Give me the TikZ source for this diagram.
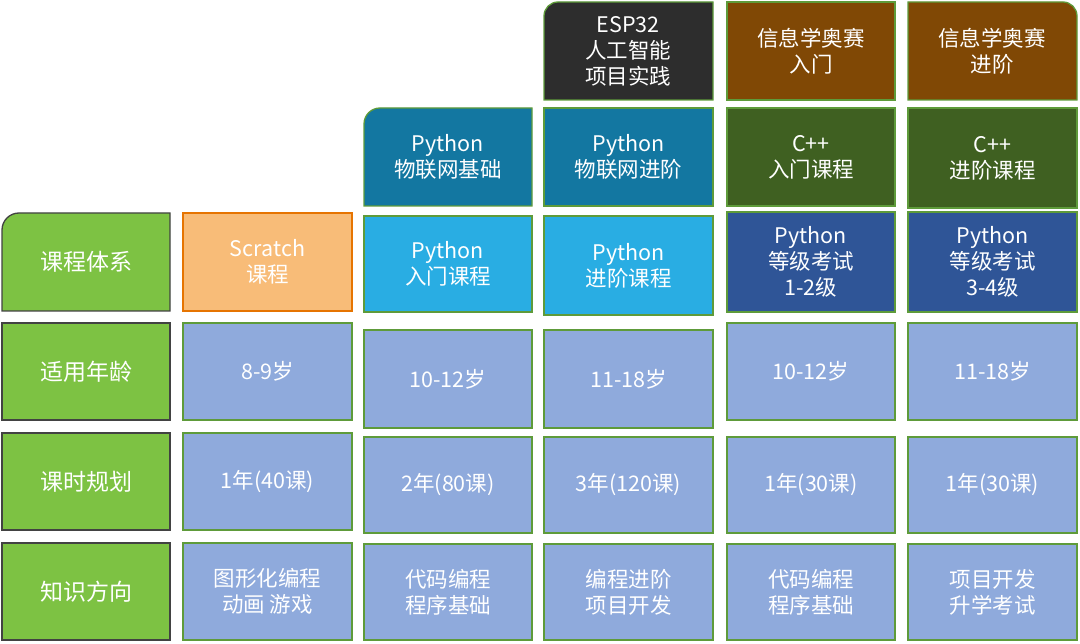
\documentclass[tikz,border=0pt]{standalone}
\usepackage{fontspec}
\setmainfont{Noto Sans CJK SC}
\definecolor{hgreen}{HTML}{7DC243}
\definecolor{orng}{HTML}{F8BC78}
\definecolor{cyanb}{HTML}{29ADE3}
\definecolor{teal}{HTML}{1377A1}
\definecolor{darkb}{HTML}{2D2D2D}
\definecolor{brown}{HTML}{804805}
\definecolor{dgreen}{HTML}{3F6021}
\definecolor{navy}{HTML}{2F5597}
\definecolor{lblue}{HTML}{8FAADC}
\definecolor{edgeg}{HTML}{5E9B3A}
\begin{document}
\begin{tikzpicture}[x=1pt,y=-1pt,
  cell/.style={draw=edgeg,line width=1.3pt},
  lab/.style={text=white,font=\fontsize{21.5}{26}\selectfont,align=center},
  head/.style={cell,draw=darkb!90,fill=hgreen},
  dat/.style={cell,fill=lblue}]
\useasboundingbox (0,0) rectangle (1080,644);
\newcommand\bx[7]{\path[#6] (#2,#3) rectangle (#4,#5);
  \node[lab] (#1) at ({(#2+#4)/2},{(#3+#5)/2}) {#7};}
% headers
\path[head] (2,311) [rounded corners=17pt] -- (2,213) [sharp corners] -- (170,213) -- (170,311) -- cycle;
\node[lab,font=\fontsize{23}{27}\selectfont] (h1) at (86,262) {课程体系};
\bx{h2}{2}{323}{170}{420}{head}{\fontsize{23}{27}\selectfont 适用年龄}
\bx{h3}{2}{433}{170}{530}{head}{\fontsize{23}{27}\selectfont 课时规划}
\bx{h4}{2}{543}{170}{640}{head}{\fontsize{23}{27}\selectfont 知识方向}
% column 1
\bx{c1a}{183}{213}{352}{311}{cell,fill=orng,draw=orange!80!brown}{Scratch\\课程}
\bx{c1b}{183}{323}{352}{420}{dat}{8-9岁}
\bx{c1c}{183}{433}{352}{530}{dat}{1年(40课)}
\bx{c1d}{183}{543}{352}{640}{dat}{图形化编程\\动画 游戏}
% column 2
\path[cell,fill=teal] (364,206) [rounded corners=16pt] -- (364,108) [sharp corners] -- (532,108) -- (532,206) -- cycle;
\node[lab] (c2t) at (448,157) {Python\\物联网基础};
\bx{c2a}{364}{216}{532}{312}{cell,fill=cyanb}{Python\\入门课程}
\bx{c2b}{364}{330}{532}{428}{dat}{10-12岁}
\bx{c2c}{364}{437}{532}{533}{dat}{2年(80课)}
\bx{c2d}{364}{544}{532}{640}{dat}{代码编程\\程序基础}
% column 3
\path[cell,fill=darkb] (544,100) [rounded corners=14pt] -- (544,2) [sharp corners] -- (713,2) -- (713,100) -- cycle;
\node[lab] (c3t) at (628,51) {ESP32\\人工智能\\项目实践};
\bx{c3s}{544}{108}{713}{206}{cell,fill=teal}{Python\\物联网进阶}
\bx{c3a}{544}{216}{713}{315}{cell,fill=cyanb}{Python\\进阶课程}
\bx{c3b}{544}{330}{713}{428}{dat}{11-18岁}
\bx{c3c}{544}{437}{713}{533}{dat}{3年(120课)}
\bx{c3d}{544}{544}{713}{640}{dat}{编程进阶\\项目开发}
% column 4
\bx{c4t}{727}{2}{895}{100}{cell,fill=brown}{信息学奥赛\\入门}
\bx{c4s}{727}{108}{895}{206}{cell,fill=dgreen}{C++\\入门课程}
\bx{c4a}{727}{212}{895}{312}{cell,fill=navy}{Python\\等级考试\\1-2级}
\bx{c4b}{727}{323}{895}{420}{dat}{10-12岁}
\bx{c4c}{727}{437}{895}{533}{dat}{1年(30课)}
\bx{c4d}{727}{544}{895}{640}{dat}{代码编程\\程序基础}
% column 5
\path[cell,fill=brown] (908,100) -- (908,2) [rounded corners=14pt] -- (1077,2) [sharp corners] -- (1077,100) -- cycle;
\node[lab] (c5t) at (992,51) {信息学奥赛\\进阶};
\bx{c5s}{908}{108}{1077}{208}{cell,fill=dgreen}{C++\\进阶课程}
\bx{c5a}{908}{212}{1077}{312}{cell,fill=navy}{Python\\等级考试\\3-4级}
\bx{c5b}{908}{323}{1077}{420}{dat}{11-18岁}
\bx{c5c}{908}{437}{1077}{533}{dat}{1年(30课)}
\bx{c5d}{908}{544}{1077}{640}{dat}{项目开发\\升学考试}
\end{tikzpicture}
\end{document}
